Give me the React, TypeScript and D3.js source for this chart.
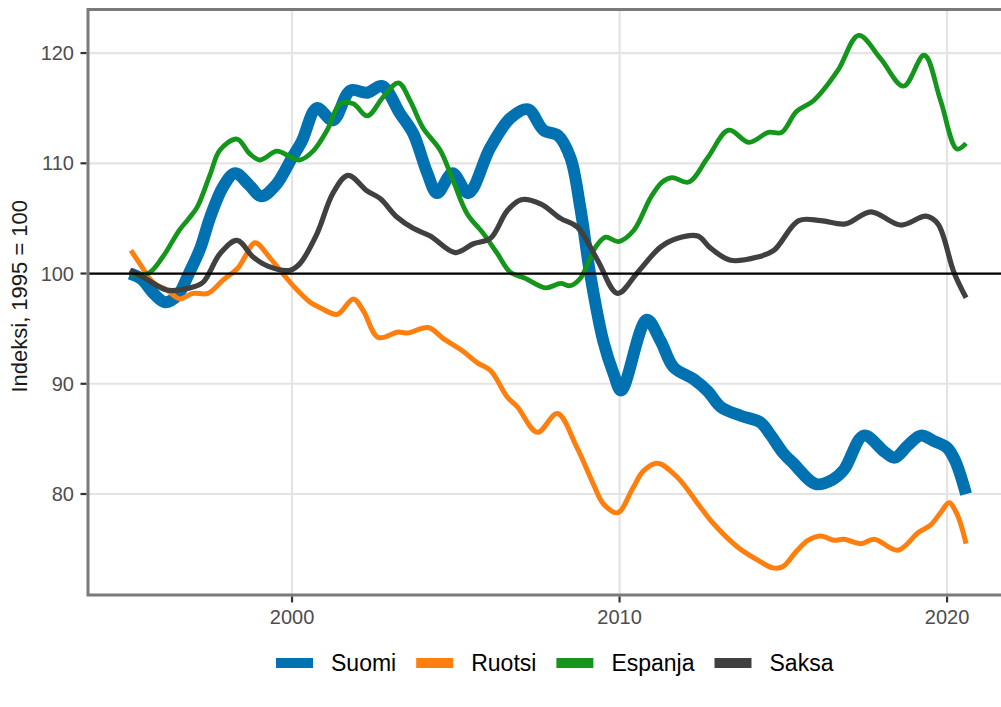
import React, { useMemo } from "react";
import * as d3 from "d3";

type Pt = [number, number];

const suomi: Pt[] = [
  [1995.05, 100.0], [1995.4, 99.5], [1995.8, 98.1], [1996.12, 97.4], [1996.5, 98.0],
  [1996.85, 100.0], [1997.2, 102.3], [1997.5, 105.1], [1997.9, 107.9], [1998.26, 109.1],
  [1998.7, 108.0], [1999.05, 107.0], [1999.5, 108.0], [2000.0, 110.5], [2000.3, 112.0],
  [2000.76, 115.0], [2001.25, 113.9], [2001.78, 116.6], [2002.3, 116.4], [2002.75, 117.0],
  [2003.3, 114.5], [2003.7, 112.7], [2004.13, 109.1], [2004.43, 107.3], [2004.9, 109.1],
  [2005.38, 107.3], [2006.05, 111.4], [2006.67, 114.1], [2007.2, 114.9], [2007.68, 113.0],
  [2008.13, 112.5], [2008.5, 110.5], [2008.8, 106.0], [2009.1, 100.0], [2009.5, 93.9],
  [2009.82, 90.9], [2010.05, 89.4], [2010.83, 95.8], [2011.25, 93.9], [2011.65, 91.5],
  [2012.27, 90.4], [2012.7, 89.3], [2013.09, 87.9], [2013.7, 87.1], [2014.3, 86.5],
  [2014.6, 85.4], [2015.0, 83.7], [2015.3, 82.8], [2016.0, 80.9], [2016.5, 81.3],
  [2016.85, 82.2], [2017.46, 85.3], [2018.1, 83.8], [2018.4, 83.3], [2018.8, 84.4],
  [2019.2, 85.3], [2019.6, 84.8], [2020.0, 84.2], [2020.25, 83.0], [2020.58, 80.0],
];

const ruotsi: Pt[] = [
  [1995.08, 102.1], [1995.35, 100.9], [1995.75, 99.2], [1996.18, 98.5], [1996.57, 97.7],
  [1996.97, 98.2], [1997.43, 98.2], [1997.89, 99.4], [1998.35, 100.5], [1998.56, 101.5],
  [1998.87, 102.8], [1999.33, 101.4], [1999.72, 100.0], [2000.03, 98.9], [2000.55, 97.4],
  [2000.86, 96.9], [2001.38, 96.3], [2001.87, 97.7], [2002.18, 96.6], [2002.63, 94.2],
  [2003.24, 94.7], [2003.52, 94.6], [2004.16, 95.1], [2004.62, 94.1], [2005.2, 93.0],
  [2005.66, 91.9], [2006.06, 91.2], [2006.57, 88.8], [2006.88, 87.9], [2007.49, 85.6],
  [2008.1, 87.3], [2008.7, 84.2], [2009.2, 80.9], [2009.51, 79.1], [2009.94, 78.3],
  [2010.4, 80.5], [2010.73, 82.1], [2011.16, 82.8], [2011.77, 81.5], [2012.47, 78.8],
  [2012.87, 77.3], [2013.6, 75.2], [2014.22, 74.0], [2014.68, 73.3], [2014.98, 73.4],
  [2015.4, 74.8], [2015.75, 75.8], [2016.15, 76.2], [2016.55, 75.8], [2016.85, 75.9],
  [2017.37, 75.5], [2017.77, 75.9], [2018.5, 74.9], [2019.12, 76.5], [2019.5, 77.2],
  [2019.8, 78.3], [2020.06, 79.2], [2020.3, 78.2], [2020.58, 75.5],
];

const espanja: Pt[] = [
  [1995.05, 100.0], [1995.6, 100.0], [1996.05, 101.5], [1996.55, 103.9], [1996.85, 105.0],
  [1997.1, 106.0], [1997.5, 109.0], [1997.8, 111.2], [1998.32, 112.2], [1998.7, 110.9],
  [1999.02, 110.3], [1999.54, 111.1], [1999.94, 110.6], [2000.24, 110.3], [2000.64, 111.1],
  [2001.07, 113.0], [2001.47, 115.4], [2001.87, 115.4], [2002.3, 114.3], [2002.78, 116.0],
  [2003.25, 117.3], [2003.6, 115.7], [2004.0, 113.2], [2004.52, 111.2], [2004.92, 108.4],
  [2005.35, 105.4], [2005.85, 103.6], [2006.27, 101.8], [2006.67, 100.1], [2007.1, 99.6],
  [2007.74, 98.7], [2008.2, 99.1], [2008.5, 98.9], [2008.81, 99.6], [2009.27, 102.4],
  [2009.57, 103.3], [2009.97, 102.9], [2010.43, 103.9], [2010.95, 106.9], [2011.3, 108.3],
  [2011.6, 108.7], [2012.11, 108.3], [2012.69, 110.5], [2013.33, 113.0], [2013.95, 111.9],
  [2014.54, 112.8], [2014.95, 112.8], [2015.4, 114.7], [2015.93, 115.7], [2016.66, 118.4],
  [2017.3, 121.6], [2017.97, 119.5], [2018.67, 117.0], [2019.3, 119.8], [2019.8, 115.7],
  [2020.3, 111.3], [2020.58, 111.8],
];

const saksa: Pt[] = [
  [1995.05, 100.3], [1995.5, 99.6], [1996.18, 98.5], [1996.88, 98.7], [1997.28, 99.2],
  [1997.8, 101.8], [1998.32, 103.0], [1998.81, 101.5], [1999.24, 100.7], [1999.94, 100.3],
  [2000.24, 100.9], [2000.76, 103.6], [2001.25, 107.3], [2001.71, 108.9], [2002.29, 107.5],
  [2002.69, 106.8], [2003.21, 105.1], [2003.7, 104.1], [2004.22, 103.4], [2004.98, 101.9],
  [2005.54, 102.7], [2006.06, 103.2], [2006.57, 105.7], [2007.0, 106.7], [2007.6, 106.3],
  [2008.2, 105.0], [2008.72, 104.2], [2009.33, 101.2], [2009.94, 98.2], [2010.55, 100.1],
  [2011.25, 102.4], [2011.77, 103.2], [2012.39, 103.4], [2012.78, 102.3], [2013.39, 101.2],
  [2014.22, 101.5], [2014.71, 102.1], [2015.47, 104.8], [2016.14, 104.8], [2016.9, 104.5],
  [2017.67, 105.6], [2018.58, 104.4], [2019.36, 105.2], [2019.72, 104.5], [2020.21, 100.1],
  [2020.58, 97.8],
];

const seriesNames = ["Suomi", "Ruotsi", "Espanja", "Saksa"];
const seriesData = [suomi, ruotsi, espanja, saksa];
const seriesColors = ["#0072B2", "#FF7F0E", "#13961B", "#404040"];
const seriesWidths = [12, 5, 4.8, 5.2];

const yTicks = [80, 90, 100, 110, 120];
const xTicks = [2000, 2010, 2020];
const referenceValue = 100;
const yTitle = "Indeksi, 1995 = 100";

const W = 1001;
const H = 707;
const FONT = "'Liberation Sans', Arial, Helvetica, sans-serif";

export default function App() {
  const panel = { left: 88, right: 1008, top: 9.5, bottom: 595 };
  const x = d3.scaleLinear().domain([1993.77, 2021.86]).range([panel.left, panel.right]);
  const y = d3.scaleLinear().domain([70.84, 123.95]).range([panel.bottom, panel.top]);

  const line = d3
    .line<Pt>()
    .x((d) => x(d[0]))
    .y((d) => y(d[1]))
    .curve(d3.curveCatmullRom.alpha(0.5));

  const legendFontSize = 23;
  const legendItems = useMemo(() => {
    let widths = seriesNames.map((n) => n.length * 12);
    try {
      const c = document.createElement("canvas").getContext("2d");
      if (c) {
        c.font = `${legendFontSize}px 'Liberation Sans', Arial, sans-serif`;
        widths = seriesNames.map((n) => c.measureText(n).width);
      }
    } catch (e) {}
    const keyW = 37;
    const keyGap = 18;
    const itemGap = 20;
    let cx = 276;
    return seriesNames.map((n, i) => {
      const it = { name: n, keyX: cx, textX: cx + keyW + keyGap, color: seriesColors[i], keyW };
      cx = cx + keyW + keyGap + widths[i] + itemGap;
      return it;
    });
  }, []);

  const legendY = 663;

  return (
    <svg width={W} height={H} style={{ display: "block", position: "absolute", left: 0, top: 0 }} fontFamily={FONT}>
      <rect x={0} y={0} width={W} height={H} fill="#ffffff" />
      <defs>
        <clipPath id="panelClip">
          <rect x={panel.left} y={panel.top} width={panel.right - panel.left} height={panel.bottom - panel.top} />
        </clipPath>
      </defs>
      <g stroke="#e4e4e4" strokeWidth={2.2}>
        {yTicks.map((t) => (
          <line key={"gy" + t} x1={panel.left} x2={panel.right} y1={y(t)} y2={y(t)} />
        ))}
        {xTicks.map((t) => (
          <line key={"gx" + t} x1={x(t)} x2={x(t)} y1={panel.top} y2={panel.bottom} />
        ))}
      </g>
      <g clipPath="url(#panelClip)" fill="none" strokeLinejoin="round">
        {seriesData.map((d, i) => (
          <path key={seriesNames[i]} d={line(d) || ""} stroke={seriesColors[i]} strokeWidth={seriesWidths[i]} />
        ))}
        <line x1={panel.left} x2={panel.right} y1={y(referenceValue)} y2={y(referenceValue)} stroke="#000" strokeWidth={2.2} />
      </g>
      <rect
        x={panel.left}
        y={panel.top}
        width={panel.right - panel.left}
        height={panel.bottom - panel.top}
        fill="none"
        stroke="#7a7a7a"
        strokeWidth={3}
      />
      <g>
        {yTicks.map((t) => (
          <g key={"yt" + t}>
            <line x1={panel.left - 7.5} x2={panel.left - 1.5} y1={y(t)} y2={y(t)} stroke="#333" strokeWidth={2.2} />
            <text x={panel.left - 14} y={y(t)} dy="0.36em" textAnchor="end" fontSize={20} fill="#4d4d4d">
              {t}
            </text>
          </g>
        ))}
      </g>
      <g>
        {xTicks.map((t) => (
          <g key={"xt" + t}>
            <line x1={x(t)} x2={x(t)} y1={panel.bottom + 1.5} y2={panel.bottom + 7.5} stroke="#333" strokeWidth={2.2} />
            <text x={x(t)} y={panel.bottom + 29} textAnchor="middle" fontSize={20} fill="#4d4d4d">
              {t}
            </text>
          </g>
        ))}
      </g>
      <text
        transform={`translate(${27},${(panel.top + panel.bottom) / 2 - 6}) rotate(-90)`}
        textAnchor="middle"
        fontSize={22}
        fill="#1a1a1a"
      >
        {yTitle}
      </text>
      <g>
        {legendItems.map((it) => (
          <g key={"lg" + it.name}>
            <line x1={it.keyX} x2={it.keyX + it.keyW} y1={legendY} y2={legendY} stroke={it.color} strokeWidth={10} />
            <text x={it.textX} y={legendY} dy="0.36em" fontSize={legendFontSize} fill="#000">
              {it.name}
            </text>
          </g>
        ))}
      </g>
    </svg>
  );
}
